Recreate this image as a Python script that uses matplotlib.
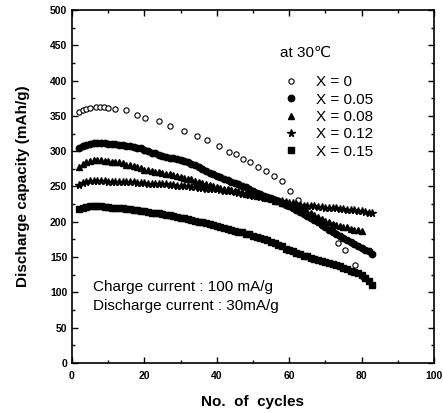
import matplotlib
matplotlib.use("Agg")
import matplotlib.pyplot as plt
import numpy as np

plt.rcParams['font.family'] = ['Liberation Sans', 'DejaVu Sans']

# X = 0 (open circles)
x0_cycles = [2, 3, 4, 5, 6.5, 7.7, 8.9, 10, 12, 15, 18, 20.3, 24, 27, 31, 34.5, 37.3, 40.7, 43.4,
             45.2, 47.3, 49.3, 51.4, 53.6, 55.9, 58, 60.1, 62.5, 64.5, 73.4, 75.3, 78.1, 80.4]
x0_cap = [356, 358, 360, 361, 362, 362, 362, 361, 360, 358, 351, 347, 342, 336, 329, 321, 316, 307, 299,
          296, 289, 285, 278, 272, 265, 258, 244, 231, 221, 170, 160, 139, 122]

# X = 0.05 (filled circles)
x05_cycles = list(range(2, 84))
x05_cap = [304, 307, 309, 310, 311, 311, 311, 311, 310, 310, 310, 309, 309, 308, 307, 306, 305, 304,
           302, 300, 298, 297, 295, 293, 292, 291, 290, 289, 288, 286, 284, 282, 280, 277, 275, 272,
           269, 267, 265, 263, 261, 259, 257, 255, 253, 251, 249, 246, 243, 241, 239, 237, 235, 233,
           231, 229, 227, 224, 222, 219, 217, 214, 211, 208, 205, 202, 199, 196, 193, 189, 186, 183,
           180, 177, 174, 171, 168, 166, 163, 160, 158, 155]

# X = 0.08 (triangles)
x08_cycles = list(range(2, 81))
x08_cap = [278, 282, 284, 286, 287, 287, 287, 286, 286, 285, 285, 284, 283, 281, 280, 279, 278, 276,
           274, 273, 272, 271, 270, 269, 268, 267, 266, 265, 263, 262, 261, 260, 258, 257, 255, 254,
           252, 250, 249, 248, 247, 246, 245, 244, 243, 242, 240, 239, 238, 237, 236, 235, 233, 232,
           230, 229, 227, 226, 224, 222, 220, 218, 216, 214, 212, 210, 207, 204, 201, 199, 197, 196,
           194, 193, 192, 190, 189, 188, 187]

# X = 0.12 (stars)
x12_cycles = list(range(2, 84))
x12_cap = [252, 255, 257, 258, 258, 258, 258, 258, 257, 257, 257, 257, 256, 256, 256, 256, 255, 255,
           255, 254, 254, 254, 253, 253, 253, 252, 252, 251, 251, 250, 250, 249, 249, 248, 248, 247,
           247, 246, 246, 245, 244, 244, 243, 242, 241, 240, 239, 238, 237, 236, 235, 234, 233, 232,
           231, 230, 229, 228, 227, 226, 225, 224, 223, 223, 222, 222, 221, 221, 220, 220, 219, 219,
           218, 218, 217, 217, 216, 215, 215, 214, 213, 212]

# X = 0.15 (squares)
x15_cycles = list(range(2, 84))
x15_cap = [218, 220, 221, 222, 222, 222, 222, 221, 221, 220, 220, 219, 219, 218, 218, 217, 216, 215,
           215, 214, 213, 213, 212, 211, 210, 209, 208, 207, 206, 205, 204, 203, 201, 200, 199, 198,
           197, 196, 194, 193, 191, 190, 189, 187, 186, 185, 183, 182, 180, 179, 177, 175, 174, 172,
           170, 167, 165, 162, 160, 158, 156, 154, 152, 151, 149, 148, 146, 145, 143, 142, 140, 139,
           137, 135, 133, 131, 129, 127, 124, 120, 116, 111]

labels = ["X = 0", "X = 0.05", "X = 0.08", "X = 0.12", "X = 0.15"]

fig = plt.figure(figsize=(4.43, 4.13), dpi=100)
ax = fig.add_axes([0.1625, 0.121, 0.817, 0.855])

ax.plot(x0_cycles, x0_cap, 'o', ms=3.8, mfc='white', mec='black', mew=0.8, ls='none', label=labels[0])
ax.plot(x05_cycles, x05_cap, 'o', ms=4.6, color='black', ls='none', label=labels[1])
ax.plot(x08_cycles, x08_cap, '^', ms=5.0, color='black', ls='none', label=labels[2])
ax.plot(x12_cycles, x12_cap, '*', ms=5.4, color='black', ls='none', label=labels[3])
ax.plot(x15_cycles, x15_cap, 's', ms=4.0, color='black', ls='none', label=labels[4])

ax.set_xlim(0, 100)
ax.set_ylim(0, 500)
ax.set_xticks(np.arange(0, 101, 20))
ax.set_xticks(np.arange(0, 101, 10), minor=True)
ax.set_yticks(np.arange(0, 501, 50))
ax.set_yticks(np.arange(0, 501, 25), minor=True)
ax.tick_params(which='both', direction='in', top=True, right=True, width=1.0)
ax.tick_params(which='major', length=4, labelsize=7.5)
ax.tick_params(which='minor', length=2)
for lab in ax.get_xticklabels() + ax.get_yticklabels():
    lab.set_fontweight('bold')
ax.tick_params(axis='x', pad=6)
for sp in ax.spines.values():
    sp.set_linewidth(1.2)

ax.set_xlabel("No.  of  cycles", fontsize=11, fontweight='bold', labelpad=10)
ax.set_ylabel("Discharge capacity (mAh/g)", fontsize=11, fontweight='bold', labelpad=14)

ax.text(0.575, 0.878, "at 30\u2103", transform=ax.transAxes, fontsize=11, va='center', ha='left')
leg = ax.legend(loc='upper left', bbox_to_anchor=(0.555, 0.845), frameon=False, fontsize=11,
                handletextpad=1.1, labelspacing=0.22, borderpad=0.2, handlelength=1.0)

ax.text(0.058, 0.215, "Charge current : 100 mA/g", transform=ax.transAxes, fontsize=11, va='center')
ax.text(0.058, 0.162, "Discharge current : 30mA/g", transform=ax.transAxes, fontsize=11, va='center')

fig.savefig("out.png", dpi=100)
